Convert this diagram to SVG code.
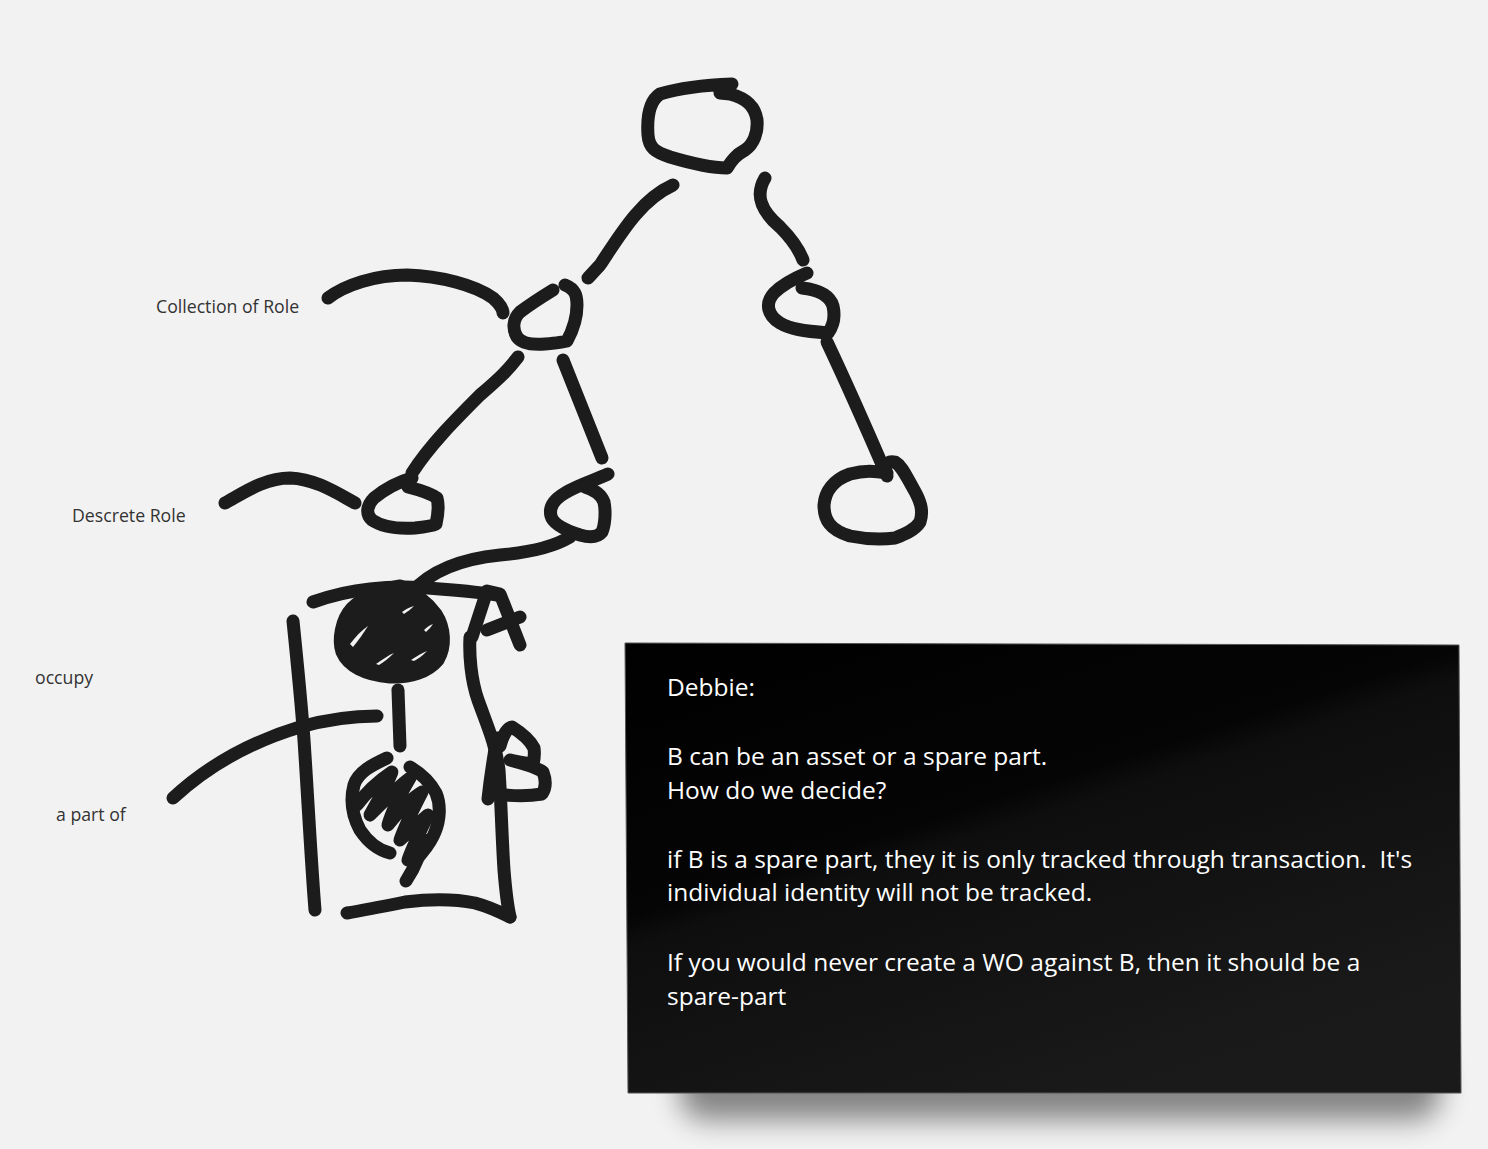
<svg xmlns="http://www.w3.org/2000/svg" width="1488" height="1149" viewBox="0 0 1488 1149">
<defs>
<style>
.s{fill:none;stroke:#1c1c1c;stroke-width:13;stroke-linecap:round;stroke-linejoin:round}
.lbl{font-family:"Open Sans","Liberation Sans",sans-serif;font-size:17.7px;fill:#333}
.note{font-family:"Open Sans","Liberation Sans",sans-serif;font-size:24.5px;fill:#fff;white-space:pre}
</style>
<linearGradient id="g" x1="0" y1="0" x2="0.6" y2="1">
<stop offset="0" stop-color="#000"/>
<stop offset="0.45" stop-color="#050505"/>
<stop offset="0.5" stop-color="#0e0e0e"/>
<stop offset="1" stop-color="#1a1a1a"/>
</linearGradient>
<filter id="blur" x="-10%" y="-50%" width="120%" height="200%"><feGaussianBlur stdDeviation="14"/></filter>
</defs>
<rect width="1488" height="1149" fill="#f2f2f2"/>

<g id="connectors">
<path class="s" d="M673,185 C640,200 620,235 600,265 L588,278"/>
<path class="s" d="M765,178 C755,195 760,210 780,227 C795,242 800,252 803,260"/>
<path class="s" d="M827,342 C845,380 865,425 887,476"/>
<path class="s" d="M328,298 C345,285 375,275 407,275 C440,276 475,285 493,298 C500,304 503,310 503,313"/>
<path class="s" d="M518,357 C508,370 500,378 480,395 C455,420 430,445 412,473"/>
<path class="s" d="M563,360 L602,458"/>
<path class="s" d="M225,503 C245,492 265,478 290,478 C315,479 335,492 355,503"/>
<path class="s" d="M570,537 C555,546 535,552 500,555 C460,559 430,572 412,592"/>
<path class="s" d="M173,798 C200,773 240,745 300,727 C325,720 355,716 377,716"/>
<path class="s" d="M398,690 L400,746"/>
</g>

<g id="node-top">
<path class="s" d="M732,84 C705,85 680,88 660,94 C648,102 647,120 648,135 C649,148 655,152 670,157 C690,163 710,168 727,168 C732,160 736,155 745,150 C754,144 758,132 757,120 C755,105 745,98 730,94 L720,93"/>
</g>

<g id="node-collection">
<path class="s" d="M553,290 C540,298 528,306 520,312 C512,320 513,330 517,337 C522,344 533,345 545,344 C555,343 565,342 567,341 C573,330 577,320 577,305 C577,295 575,289 565,285"/>
</g>

<g id="node-right-mid">
<path class="s" d="M807,273 C795,278 782,285 774,293 C765,303 767,315 780,323 C790,329 803,331 828,333 C834,325 835,315 833,306 C830,296 820,290 802,288"/>
</g>

<g id="node-bottom-right">
<path class="s" d="M887,473 C875,471 865,470 850,474 C833,480 825,492 824,505 C824,520 830,530 850,536 C865,539 880,540 895,538 C905,534 915,530 920,522 C924,510 920,500 913,488 C906,476 902,466 895,462 C890,461 888,462 887,465"/>
</g>

<g id="node-discrete">
<path class="s" d="M412,478 C398,482 385,489 374,498 C366,506 366,515 372,520 C382,527 398,529 415,528 C425,527 432,526 436,524 C438,515 439,505 437,498 C430,493 420,490 408,487"/>
</g>

<g id="node-lower-right">
<path class="s" d="M608,474 C595,480 578,485 565,493 C553,500 549,508 551,516 C553,524 565,530 580,535 C590,538 598,537 602,532 C605,525 606,512 604,502 C601,494 595,490 585,487"/>
</g>

<g id="node-box">
<path class="s" d="M313,602 C330,596 350,591 370,589 C395,586 420,587 440,589 C465,591 485,593 497,595"/>
<path class="s" d="M293,621 C297,660 301,700 304,740 C308,800 311,860 315,910"/>
<path class="s" d="M347,913 C365,910 385,906 405,902 C430,899 455,899 475,903 C490,907 500,912 510,917"/>
<path class="s" d="M470,637 C469,655 471,680 478,700 C487,725 496,745 499,770 C501,800 502,840 504,870 C506,895 508,908 510,917"/>
</g>

<g id="node-A">
<path class="s" d="M472,637 L487,591 L500,594 L520,645"/>
<path class="s" d="M487,630 L520,617"/>
</g>

<g id="node-B">
<path class="s" d="M488,799 C490,780 493,760 497,738"/>
<path class="s" d="M500,746 C503,735 507,728 512,727 C520,732 530,740 534,748 C535,755 534,760 533,764 C525,763 518,762 510,760 C525,764 538,768 543,772 C546,780 546,788 542,794 C530,796 518,796 506,795"/>
</g>

<g id="node-circle-A">
<path d="M400,586 C382,589 365,596 352,608 C341,620 338,640 342,652 C348,666 365,675 390,677 C410,678 428,672 438,660 C446,647 445,628 436,614 C428,603 415,593 400,586 Z" fill="#1c1c1c"/>
<path class="s" d="M400,586 C382,589 365,596 352,608 C341,620 338,640 342,652 C348,666 365,675 390,677 C410,678 428,672 438,660 C446,647 445,628 436,614 C428,603 415,593 400,586"/>
<path d="M350,644 C356,636 362,630 368,626 C363,634 358,641 353,647 Z" fill="#f2f2f2"/>
<path d="M376,664 C383,659 389,655 394,653 C389,658 384,662 379,665 Z" fill="#f2f2f2"/>
<path d="M402,612 C406,609 410,607 414,606 C411,609 407,612 404,614 Z" fill="#f2f2f2"/>
<path d="M411,660 C417,656 422,653 427,651 C422,656 418,659 414,661 Z" fill="#f2f2f2"/>
<path d="M424,630 C427,627 430,625 433,624 C431,627 428,630 426,632 Z" fill="#f2f2f2"/>
</g>

<g id="node-circle-B">
<path class="s" d="M387,758 C372,765 358,772 354,785 C350,800 352,815 360,830 C368,842 378,850 390,853"/>
<path class="s" d="M410,767 C420,773 430,782 436,793 C441,805 440,820 435,832 C430,845 422,852 418,858 C414,868 410,875 406,881"/>
<path class="s" d="M357,805 C368,790 380,780 392,772 C385,790 375,805 370,815 C385,800 400,785 410,778 C400,795 392,810 388,825 C400,810 412,798 422,792 C414,808 405,825 400,840 C410,830 420,822 428,815 C420,832 412,848 408,860 C414,852 420,845 425,840"/>
</g>

<g id="labels">
<text class="lbl" x="156" y="313">Collection of Role</text>
<text class="lbl" x="72" y="522">Descrete Role</text>
<text class="lbl" x="35" y="684">occupy</text>
<text class="lbl" x="56" y="821">a part of</text>
</g>

<g id="note">
<rect x="680" y="1045" width="760" height="75" rx="25" fill="#000" opacity="0.45" filter="url(#blur)"/>
<path d="M625,643 L1459,645 L1461,1093 L628,1093 Z" fill="url(#g)" stroke="#555" stroke-width="1"/>
<text class="note" x="667" y="696">Debbie:</text>
<text class="note" x="667" y="765">B can be an asset or a spare part.</text>
<text class="note" x="667" y="799">How do we decide?</text>
<text class="note" x="667" y="868">if B is a spare part, they it is only tracked through transaction.  It's</text>
<text class="note" x="667" y="901">individual identity will not be tracked.</text>
<text class="note" x="667" y="971">If you would never create a WO against B, then it should be a</text>
<text class="note" x="667" y="1005">spare-part</text>
</g>
</svg>
